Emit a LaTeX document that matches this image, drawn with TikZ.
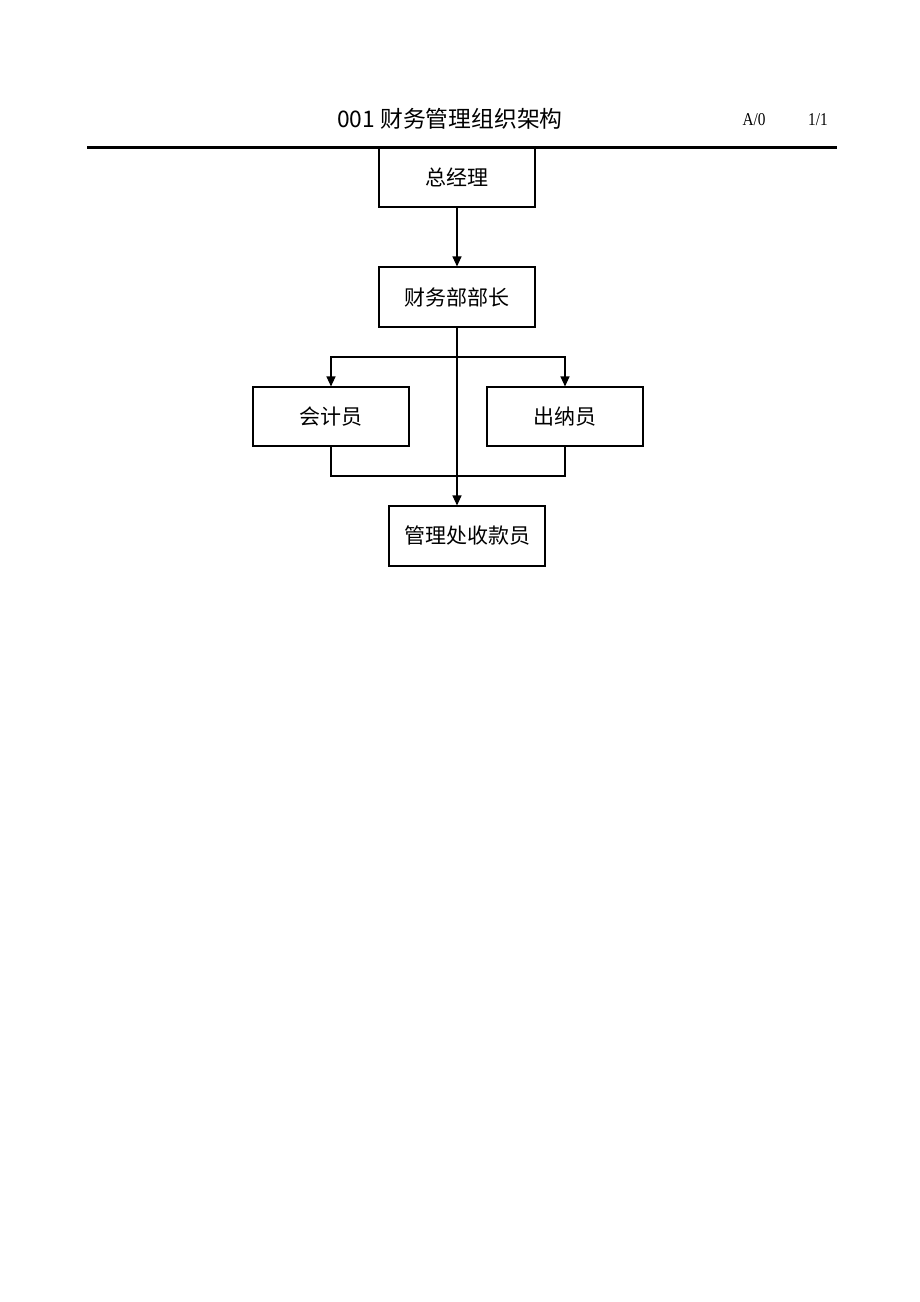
\documentclass[tikz,border=0pt]{standalone}
\usepackage{fontspec}
\setmainfont{Liberation Serif}
\newfontfamily\cjk{Noto Sans CJK SC}
\usetikzlibrary{arrows.meta}
\tikzset{
  box/.style={draw, line width=1.1pt, minimum width=156pt, minimum height=59pt, inner sep=0pt, font=\cjk\fontsize{21}{21}\selectfont},
  conn/.style={line width=1.2pt},
  arr/.style={conn, -{Triangle[length=10pt,width=9pt]}}
}
\begin{document}
\begin{tikzpicture}[x=1pt,y=-1pt]
\useasboundingbox (0,0) rectangle (920,1302);
\node[font=\cjk\fontsize{22.8}{22.8}\selectfont] (title) at (450,119) {001 财务管理组织架构};
\node[font=\fontsize{18}{18}\selectfont, xscale=0.85] (ver) at (754,120) {A/0};
\node[font=\fontsize{18}{18}\selectfont, xscale=0.85] (pg) at (818,120) {1/1};
\coordinate (hl) at (87,147.5);
\coordinate (hr) at (837,147.5);
\draw[line width=2.5pt] (hl) -- (hr);
\node[box] (zjl) at (457,177.5) {总经理};
\node[box, minimum height=60pt] (bz) at (457,297) {财务部部长};
\node[box] (kj) at (331,416.5) {会计员};
\node[box] (cn) at (565,416.5) {出纳员};
\node[box, minimum height=60pt] (sk) at (467,536) {管理处收款员};
\draw[arr] (zjl.south) -- (bz.north);
\draw[arr] (bz.south) -- (bz.south |- sk.north);
\coordinate (br) at (457,357);
\draw[arr] (br) -| (kj.north);
\draw[arr] (br) -| (cn.north);
\coordinate (bot) at (457,476);
\draw[conn] (kj.south) |- (bot) -| (cn.south);
\end{tikzpicture}
\end{document}
